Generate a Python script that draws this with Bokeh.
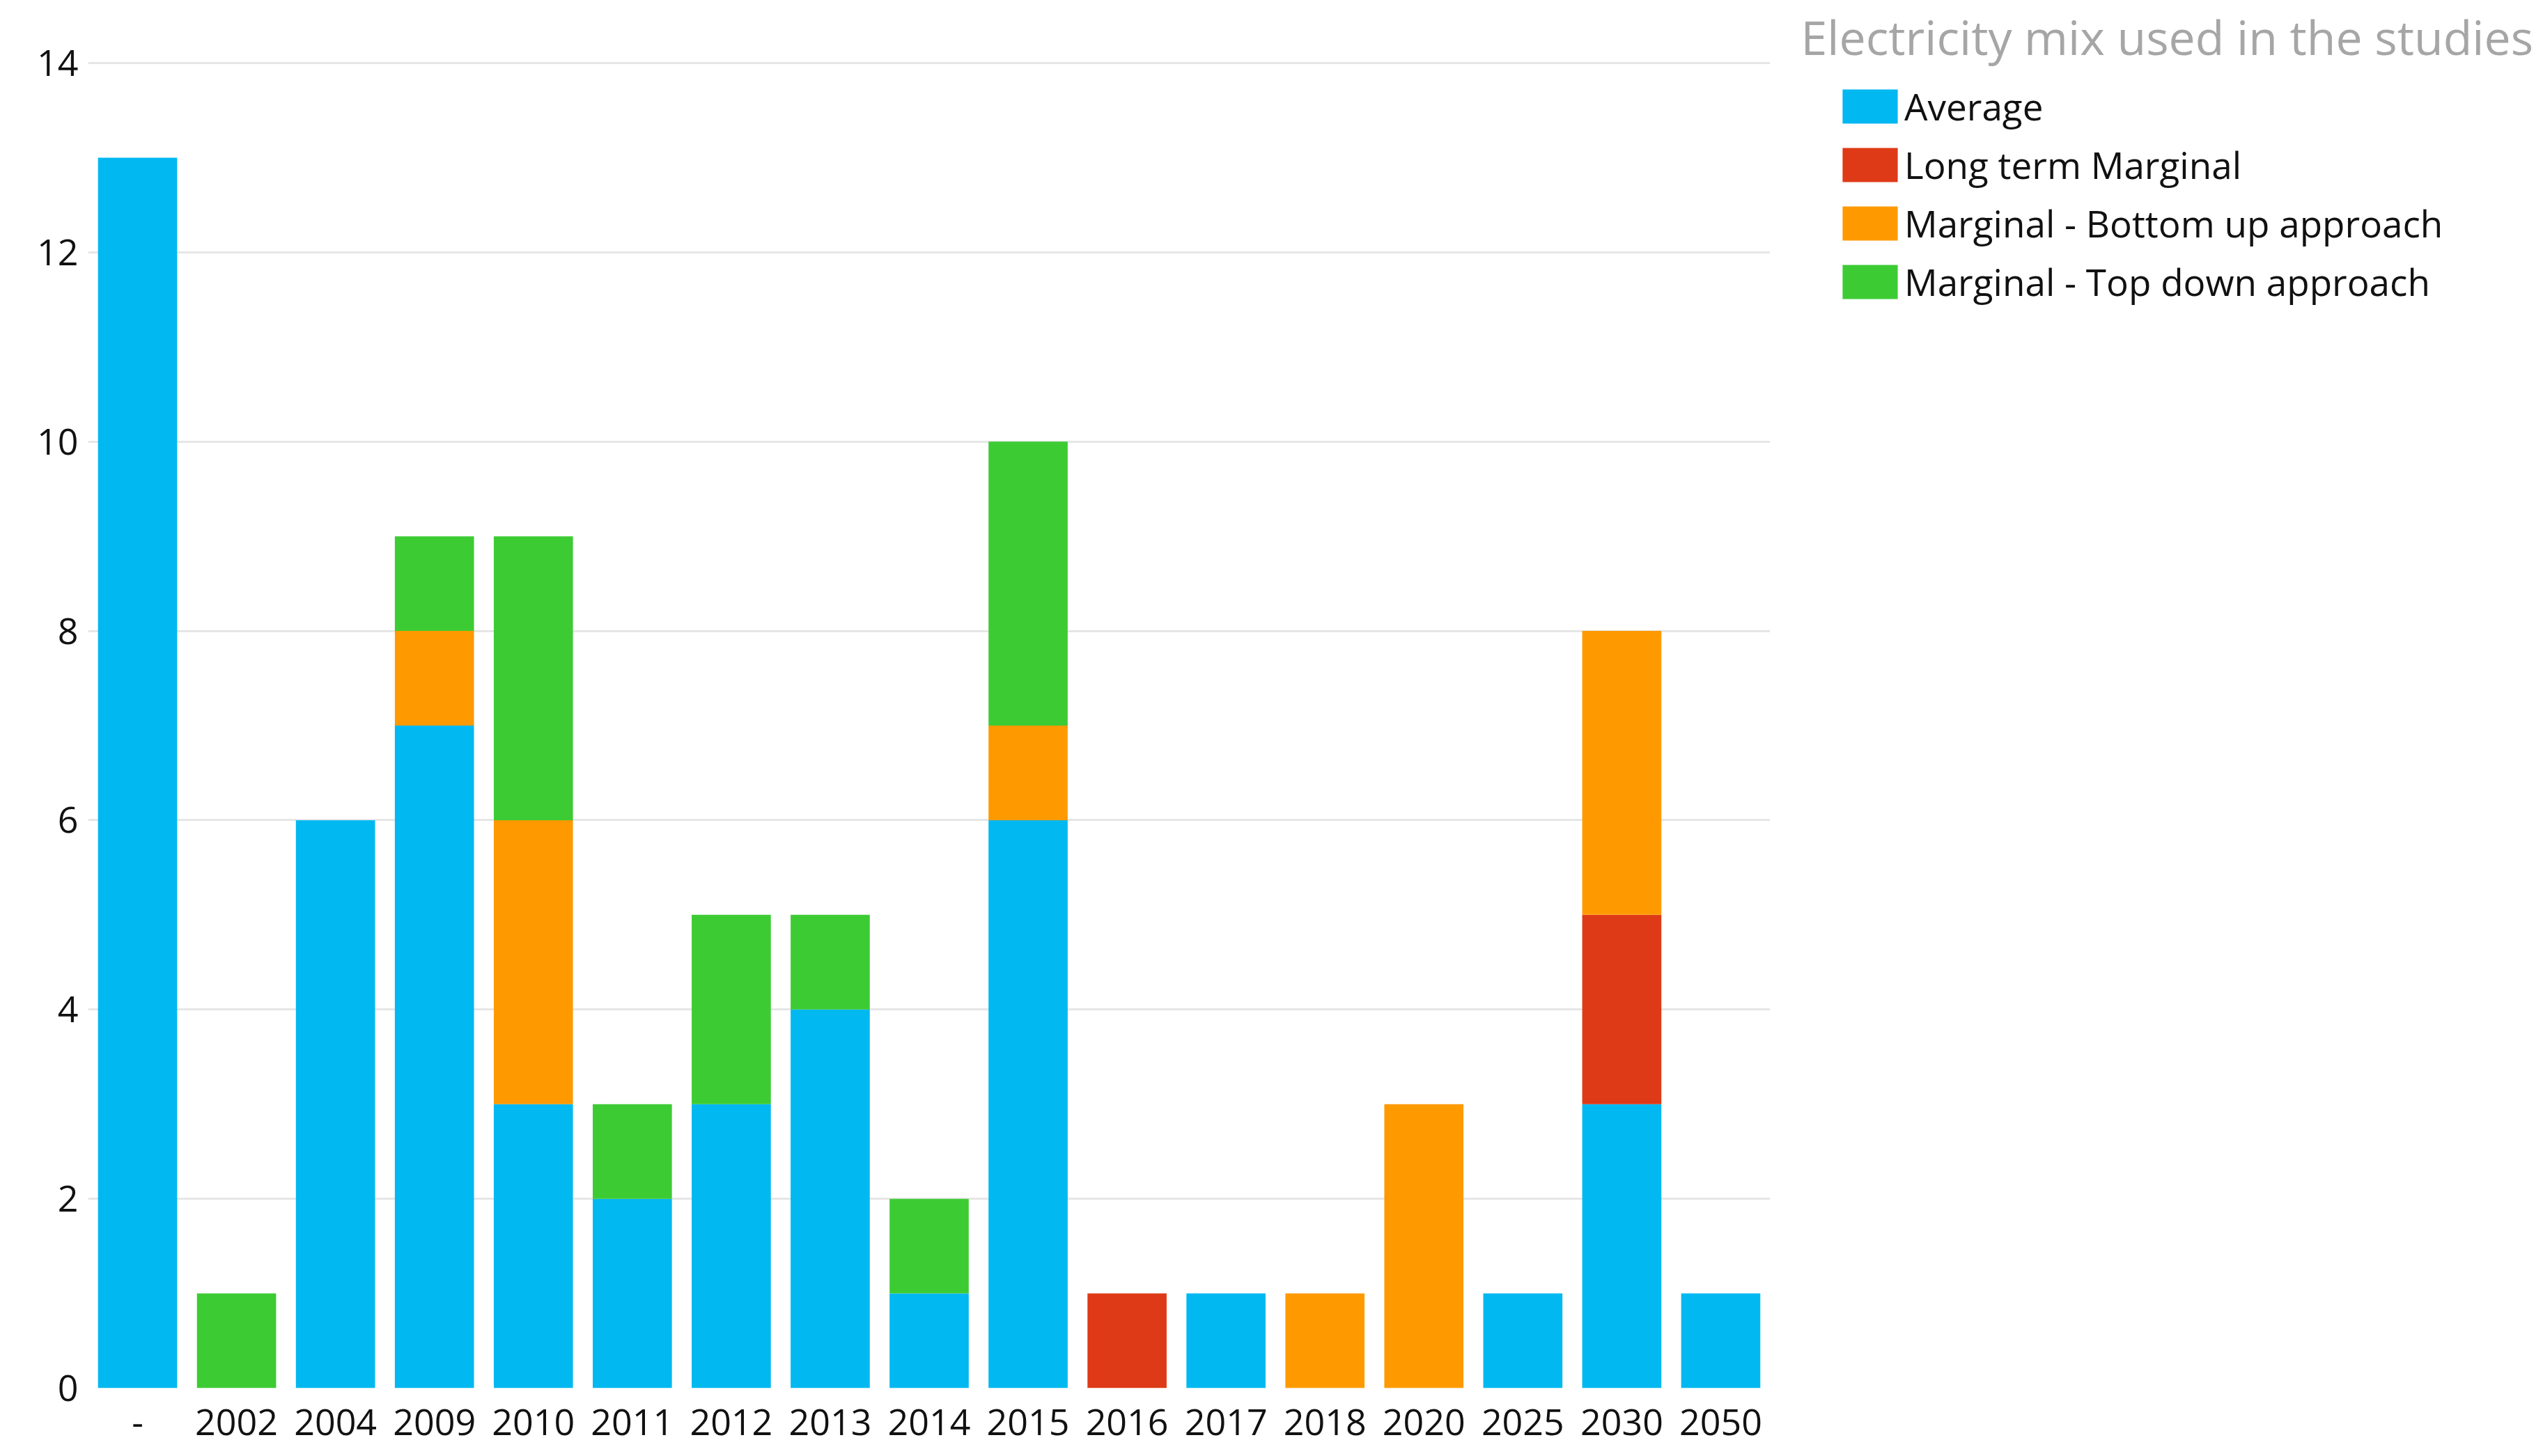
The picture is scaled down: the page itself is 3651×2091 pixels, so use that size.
from bokeh.plotting import figure
from bokeh.layouts import row
from bokeh.models import ColumnDataSource, FactorRange, Range1d, Legend, LegendItem, Label, SingleIntervalTicker
from bokeh.embed import file_html
from bokeh.resources import INLINE

categories = ["-", "2002", "2004", "2009", "2010", "2011", "2012", "2013", "2014",
              "2015", "2016", "2017", "2018", "2020", "2025", "2030", "2050"]
average = [13, 0, 6, 7, 3, 2, 3, 4, 1, 6, 0, 1, 0, 0, 1, 3, 1]
long_term_marginal = [0, 0, 0, 0, 0, 0, 0, 0, 0, 0, 1, 0, 0, 0, 0, 2, 0]
marginal_bottom_up = [0, 0, 0, 1, 3, 0, 0, 0, 0, 1, 0, 0, 1, 3, 0, 3, 0]
marginal_top_down = [0, 1, 0, 1, 3, 1, 2, 1, 1, 3, 0, 0, 0, 0, 0, 0, 0]

series_names = ["Average", "Long term Marginal", "Marginal - Bottom up approach", "Marginal - Top down approach"]
series_keys = ["average", "long", "bottom", "top"]
colors = ["#01B8F1", "#DF3A17", "#FE9A00", "#3DCB34"]
legend_title = "Electricity mix used in the studies"

source = ColumnDataSource(dict(cat=categories, average=average, long=long_term_marginal,
                               bottom=marginal_bottom_up, top=marginal_top_down))

FONT = "Open Sans"
H = 2085
W1 = 2545
W2 = 1100

p = figure(x_range=FactorRange(factors=categories, range_padding=0),
           y_range=Range1d(0, 14.662),
           width=W1, height=H, output_backend="svg", toolbar_location=None,
           min_border_left=126, min_border_right=4, min_border_top=0, min_border_bottom=92)

renderers = p.vbar_stack(series_keys, x="cat", width=0.8, color=colors, source=source,
                         line_color=None)

p.outline_line_color = None
p.xgrid.grid_line_color = None
p.ygrid.grid_line_color = "#E6E6E6"
p.ygrid.grid_line_width = 3
p.yaxis.ticker = SingleIntervalTicker(interval=2)

for ax in (p.xaxis, p.yaxis):
    ax.axis_line_color = None
    ax.major_tick_line_color = None
    ax.minor_tick_line_color = None
    ax.major_tick_out = 0
    ax.major_tick_in = 0
    ax.major_label_text_font = FONT
    ax.major_label_text_font_size = "52px"
    ax.major_label_text_color = "#111111"
p.yaxis.major_label_standoff = 10
p.xaxis.major_label_standoff = 30

# legend panel: a second plot whose view shows none of the bars, only the legend
p2 = figure(width=W2, height=H, x_range=FactorRange(factors=categories),
            y_range=Range1d(100, 101), x_axis_type=None, y_axis_type=None,
            output_backend="svg", toolbar_location=None, min_border=0)
p2.grid.grid_line_color = None
p2.outline_line_color = None

legend_renderers = p2.vbar_stack(series_keys, x="cat", width=0.8, color=colors,
                                 source=source, line_color=None)
for r in legend_renderers:
    r.visible = False
items = [LegendItem(label=n, renderers=[r]) for n, r in zip(series_names, legend_renderers)]
legend = Legend(items=items, location=(90, 1552), orientation="vertical",
                padding=0, margin=0, spacing=11, glyph_width=99, glyph_height=61,
                label_standoff=0, label_text_font=FONT, label_text_font_size="53px",
                label_text_color="#111111", border_line_color=None,
                background_fill_alpha=0, inactive_fill_alpha=0)
p2.add_layout(legend, "center")

title = Label(x=40, y=1941, x_units="screen", y_units="screen",
              text=legend_title, text_font=FONT,
              text_font_size="68px", text_color="#A6A6A6", text_baseline="middle",
              text_align="left")
p2.add_layout(title)

layout = row(p, p2)
open("out.html", "w").write(file_html(layout, INLINE))
